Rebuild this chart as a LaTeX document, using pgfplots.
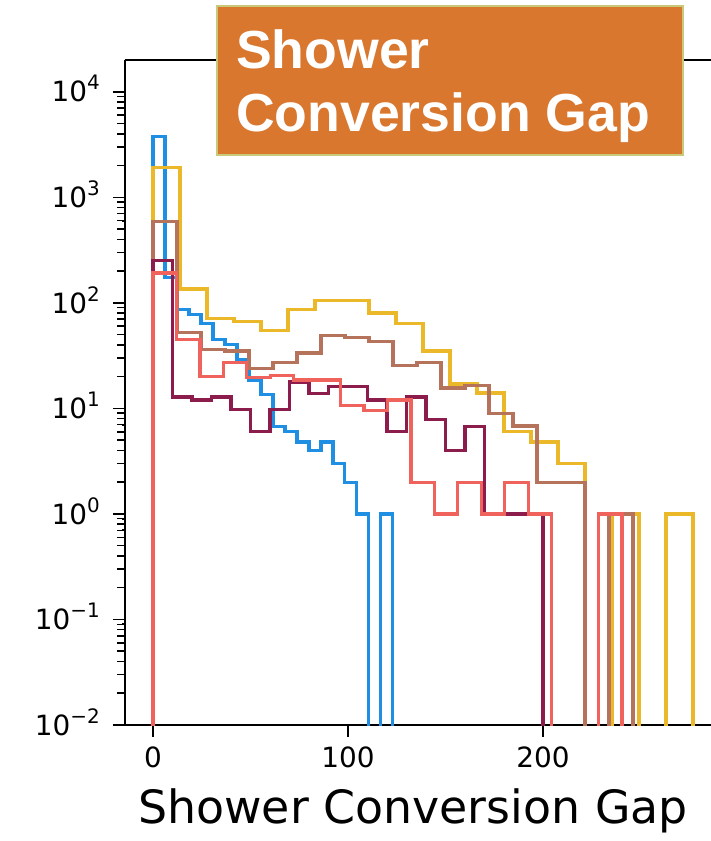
\documentclass[border=0pt]{standalone}
\usepackage{pgfplots}
\pgfplotsset{compat=1.18}
\usepackage{fontspec}
\setmainfont{DejaVu Sans}
\newfontfamily\titlefont{Liberation Sans}
\definecolor{cblue}{HTML}{1F8FE3}
\definecolor{cyellow}{HTML}{EBB829}
\definecolor{cbrown}{HTML}{B4735A}
\definecolor{cmaroon}{HTML}{8C1C4C}
\definecolor{cred}{HTML}{F0625C}
\definecolor{corange}{HTML}{D9772E}
\definecolor{cborder}{HTML}{C9C97A}
\newcommand{\tl}[1]{10\raisebox{12bp}{\fontsize{20}{20}\selectfont #1}}
\pgfplotsset{hist/.style={const plot, line width=3.2bp, mark=none}}
\begin{document}
\begin{tikzpicture}
\path[use as bounding box] (-125bp,-116bp) rectangle (586bp,725bp);
\begin{axis}[at={(0,0)}, anchor=south west,
  scale only axis, width=586bp, height=665bp,
  ymode=log, xmin=-14.4, xmax=286.2, ymin=1e-2, ymax=2e4,
  axis y line*=left,
  tick pos=left,
  tick align=outside,
  major tick length=12bp,
  every tick/.style={black, line width=1.6bp},
  axis line style={line width=1.6bp},
  xtick={0,100,200}, xticklabels={0,100,200},
  ytick={1e-2,1e-1,1,10,100,1000,10000},
  yticklabels={\tl{−2},\tl{−1},\tl{0},\tl{1},\tl{2},\tl{3},\tl{4}},
  ticklabel style={font=\fontsize{28}{28}\selectfont},
  xticklabel style={anchor=base, yshift=-31bp},
  yticklabel style={anchor=base east, inner sep=0pt, xshift=-13bp, yshift=-10.2bp},
  xlabel={Shower Conversion Gap},
  xlabel style={at={(axis description cs:0.4915,0)}, anchor=base, yshift=-98bp, inner sep=0pt, font=\fontsize{46}{46}\selectfont},
]
% blue (bin width 6.15)
\addplot[hist, cblue] coordinates {(0,0.001) (0,3750) (6.15,175) (12.3,86) (18.45,77) (24.6,64) (30.75,45) (36.9,40) (43.05,29) (49.2,18.6) (55.35,13.5) (61.5,6.7) (67.65,6) (73.8,4.8) (79.95,4) (86.1,4.8) (92.25,3) (98.4,2) (104.55,1) (110.7,0.001) (116.85,1) (123,1) (123,0.001)};
% yellow (bin width 13.85)
\addplot[hist, cyellow] coordinates {(0,0.001) (0,1900) (13.85,135) (27.7,71) (41.55,67) (55.4,55) (69.25,86) (83.1,106) (96.95,106) (110.8,80) (124.65,64) (138.5,35) (152.35,17) (166.2,14) (180.05,6) (193.9,4.8) (207.75,3.0) (221.6,0.001) (235.45,1) (249.3,0.001) (263.15,1) (277,1) (277,0.001)};
% brown (bin width 12.31)
\addplot[hist, cbrown] coordinates {(0,0.001) (0,585) (12.31,52) (24.62,36) (36.93,35) (49.24,24) (61.55,27) (73.86,33.5) (86.17,49) (98.48,47) (110.79,43) (123.1,25.5) (135.41,27) (147.72,15.6) (160.03,16.5) (172.34,9) (184.65,6.8) (196.96,2) (209.27,2) (221.58,0.001) (233.89,1) (246.2,1) (246.2,0.001)};
% maroon (bin width 10)
\addplot[hist, cmaroon] coordinates {(0,0.001) (0,250) (10,12.8) (20,12) (30,12.8) (40,9.7) (50,6) (60,9.7) (70,17.8) (80,13.8) (90,16) (100,16) (110,12) (120,6) (130,12.8) (140,7.8) (150,4) (160,6.7) (170,1) (180,1) (190,1) (200,1) (200,0.001)};
% red (bin width 12.025)
\addplot[hist, cred] coordinates {(0,0.001) (0,192) (12.025,44.7) (24.05,20) (36.075,27) (48.1,19.5) (60.125,20.5) (72.15,18.6) (84.175,18.6) (96.2,10.6) (108.225,9.6) (120.25,12) (132.275,2) (144.3,1) (156.325,2) (168.35,1) (180.375,2) (192.4,1) (204.425,0.001) (216.45,0.001) (228.475,1) (240.5,1) (240.5,0.001)};
\end{axis}
% minor y ticks (2..9 within each decade) on the left spine
\foreach \d in {-2,-1,0,1,2,3} {
  \foreach \m in {2,3,4,5,6,7,8,9} {
    \pgfmathsetmacro\yy{(\d+log10(\m)+2)/6.30103*665}
    \draw[black, line width=1.5bp] (0bp,\yy bp) -- ++(-7.5bp,0);
  }
}
\fill[corange] (92bp,570bp) rectangle (558bp,719bp);
\draw[cborder, line width=1.5bp] (92bp,570bp) rectangle (558bp,719bp);
\node[anchor=base west, inner sep=0pt, text=white, font=\titlefont\bfseries\fontsize{53.8}{53.8}\selectfont] at (111bp,656.7bp) {Shower};
\node[anchor=base west, inner sep=0pt, text=white, font=\titlefont\bfseries\fontsize{53.8}{53.8}\selectfont] at (111bp,593.3bp) {Conversion Gap};
\end{tikzpicture}
\end{document}
